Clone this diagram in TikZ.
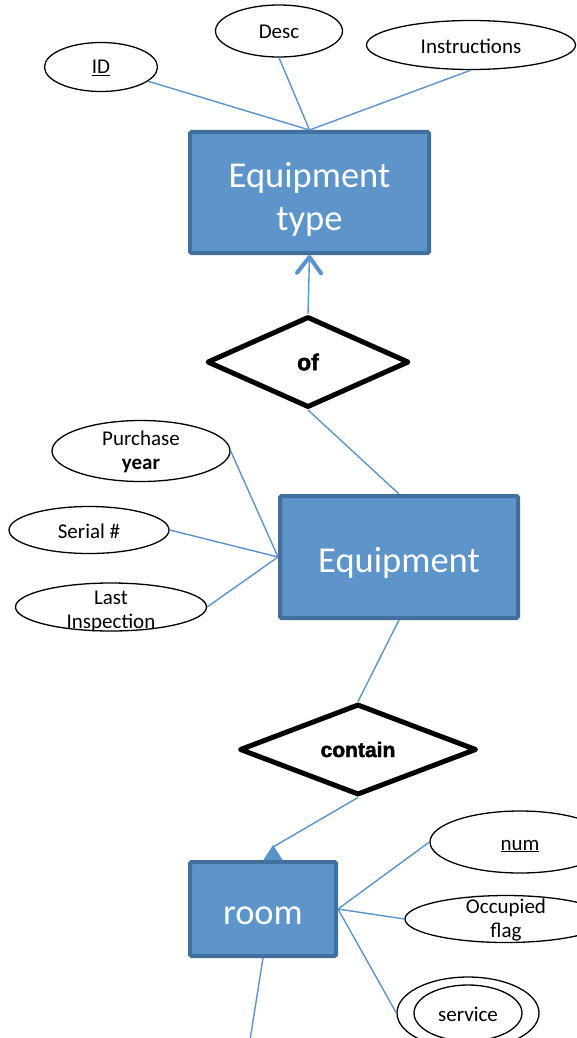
\documentclass[tikz,border=0pt]{standalone}
\usepackage{fontspec}
\setmainfont{Carlito}
\newfontfamily\relfont{Liberation Sans}[BoldFeatures={FakeBold=2}]
\usepackage{tikz}
\usetikzlibrary{shapes.geometric, arrows.meta}
\definecolor{entityfill}{RGB}{93,148,202}
\definecolor{entityline}{RGB}{65,112,158}
\definecolor{linkblue}{RGB}{91,147,205}
% 实体文字的基线（只放在第一行）
\newcommand{\boxstrut}{\rule[-8pt]{0pt}{47.5pt}}
\tikzset{
  entity/.style={
    rectangle,
    rounded corners=1.5pt,
    fill=entityfill,
    draw=entityline,
    line width=4pt,
    text=white,
    inner sep=0pt,
    align=center,
    font=\fontsize{36.5}{43}\selectfont
  },
  attribute/.style={
    ellipse,
    draw=black,
    line width=1.3pt,
    fill=white,
    inner sep=0pt
  },
  attr text/.style={
    font=\fontsize{21}{24}\selectfont,
    align=center,
    inner sep=0pt,
    yshift=-1pt
  },
  relation/.style={
    diamond,
    aspect=2.5,
    draw=black,
    line width=5pt,
    line join=round,
    fill=white,
    inner sep=0pt,
    font=\relfont\bfseries\fontsize{21}{24}\selectfont
  },
  link/.style={
    draw=linkblue,
    line width=1.4pt
  }
}

\begin{document}
\begin{tikzpicture}[x=1pt, y=-1pt]
    \useasboundingbox (0,0) rectangle (577,1038);

    % 实体
    \node[entity, minimum width=239, minimum height=121] (eqtype) at (309.5,192.5) {\boxstrut Equipment\\type};
    \node[entity, minimum width=238, minimum height=122] (eq) at (399,557) {\boxstrut Equipment};
    \node[entity, minimum width=146, minimum height=94] (room) at (263,909) {\boxstrut room};

    % 联系
    \node[relation, minimum width=202, minimum height=91] (of) at (308,362) {\fontsize{23}{24}\selectfont of};
    \node[relation, minimum width=237, minimum height=91] (con) at (358,749.5) {contain};

    % Equipment type 的属性
    \node[attribute, minimum width=113, minimum height=49, label={[attr text]center:\underline{ID}}] (id) at (101,67) {};
    \node[attribute, minimum width=127, minimum height=52, label={[attr text]center:Desc}] (desc) at (279,31) {};
    \node[attribute, minimum width=209, minimum height=49, label={[attr text]center:Instructions}] (ins) at (471,45) {};

    % Equipment 的属性
    \node[attribute, minimum width=178, minimum height=61, label={[attr text]center:Purchase\\\textbf{year}}] (py) at (141,451) {};
    \node[attribute, minimum width=160, minimum height=47, label={[attr text]center:Serial \#}] (sn) at (89,530) {};
    \node[attribute, minimum width=191, minimum height=48, label={[attr text, yshift=-3pt]center:Last\\Inspection}] (li) at (111,607) {};

    % room 的属性
    \node[attribute, minimum width=180, minimum height=62, label={[attr text, yshift=-3pt]center:\underline{num}}] (num) at (520,842) {};
    \node[attribute, minimum width=202, minimum height=47, label={[attr text]center:Occupied\\flag}] (occ) at (506,919) {};
    \node[attribute, minimum width=142, minimum height=72] (srv) at (468,1013) {};
    \node[attribute, minimum width=108, minimum height=56, label={[attr text]center:service}] (srvin) at (468,1013) {};

    % 连线
    \draw[link] (id) -- (eqtype.north);
    \draw[link] (desc.south) -- (eqtype.north);
    \draw[link] (ins.south) -- (eqtype.north);
    \draw[link, -{Straight Barb[length=16pt, width=24pt, line width=4pt, round]}] (of.north) -- (eqtype.south);
    \draw[link] (of.south) -- (eq.north);
    \draw[link] (py.east) -- (eq.west);
    \draw[link] (sn.east) -- (eq.west);
    \draw[link] (li.east) -- (eq.west);
    \draw[link] (eq.south) -- (con.north);

    \coordinate (bend) at (273,847);
    \draw[link, -{Triangle[reversed, length=15pt, width=19pt]}, fill=linkblue] (con.south) -- (bend) -- ([xshift=10pt]room.north);
    \draw[link] (room.east) -- (num.west);
    \draw[link] (room.east) -- (occ.west);
    \draw[link] (room.east) -- (srv.west);
    \coordinate (down) at (250,1040);
    \draw[link] (room.south) -- (down);

  \end{tikzpicture}
\end{document}
